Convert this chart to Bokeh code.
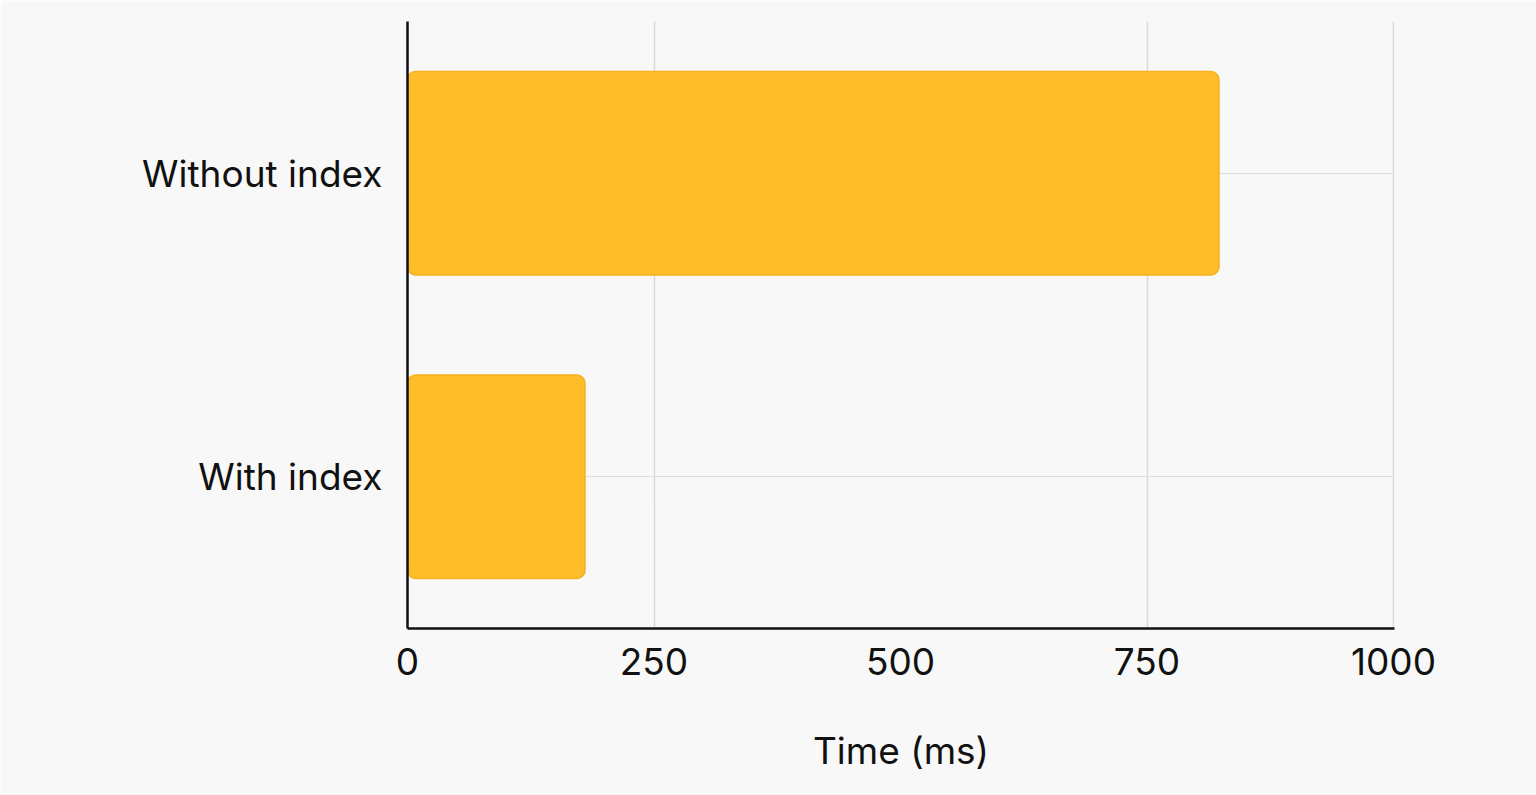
from bokeh.plotting import figure
from bokeh.models import FixedTicker
from bokeh.embed import file_html
from bokeh.resources import INLINE

categories = ["With index", "Without index"]
times_ms = [180, 823]
x_ticks = [0, 250, 500, 750, 1000]
grid_ticks = [250, 750, 1000]

FONT = "Inter"
BG = "#f8f8f8"

p = figure(
    y_range=categories,
    x_range=(0, 1001),
    width=1536, height=795,
    output_backend="svg", toolbar_location=None,
    min_border_left=407, min_border_right=142,
    min_border_top=21, min_border_bottom=167,
    background_fill_color=BG, border_fill_color=BG,
    outline_line_color=None,
)

p.hbar(y=categories, right=times_ms, left=0, height=0.67,
       fill_color="#FFBD2A", line_color="#F6B020", line_width=1.5,
       border_radius=8)

p.y_range.range_padding = 0

p.xaxis.ticker = FixedTicker(ticks=x_ticks)
p.xaxis.axis_label = "Time (ms)"
for ax in (p.xaxis[0], p.yaxis[0]):
    ax.axis_line_color = "#111111"
    ax.axis_line_width = 2.5
    ax.major_tick_line_color = None
    ax.minor_tick_line_color = None
    ax.major_label_text_font = FONT
    ax.major_label_text_font_size = "37px"
    ax.major_label_text_color = "#111111"
p.xaxis.major_label_standoff = 13
p.yaxis.major_label_standoff = 19

p.xaxis.axis_label_text_font = FONT
p.xaxis.axis_label_text_font_size = "37px"
p.xaxis.axis_label_text_font_style = "normal"
p.xaxis.axis_label_text_color = "#111111"
p.xaxis.axis_label_standoff = 50

p.xgrid.ticker = FixedTicker(ticks=grid_ticks)
p.xgrid.grid_line_color = "#d9d9d9"
p.xgrid.grid_line_width = 1.5
p.ygrid.grid_line_color = "#dddddd"
p.ygrid.grid_line_width = 1.2
p.grid.level = "underlay"

open("out.html", "w").write(file_html(p, INLINE))
